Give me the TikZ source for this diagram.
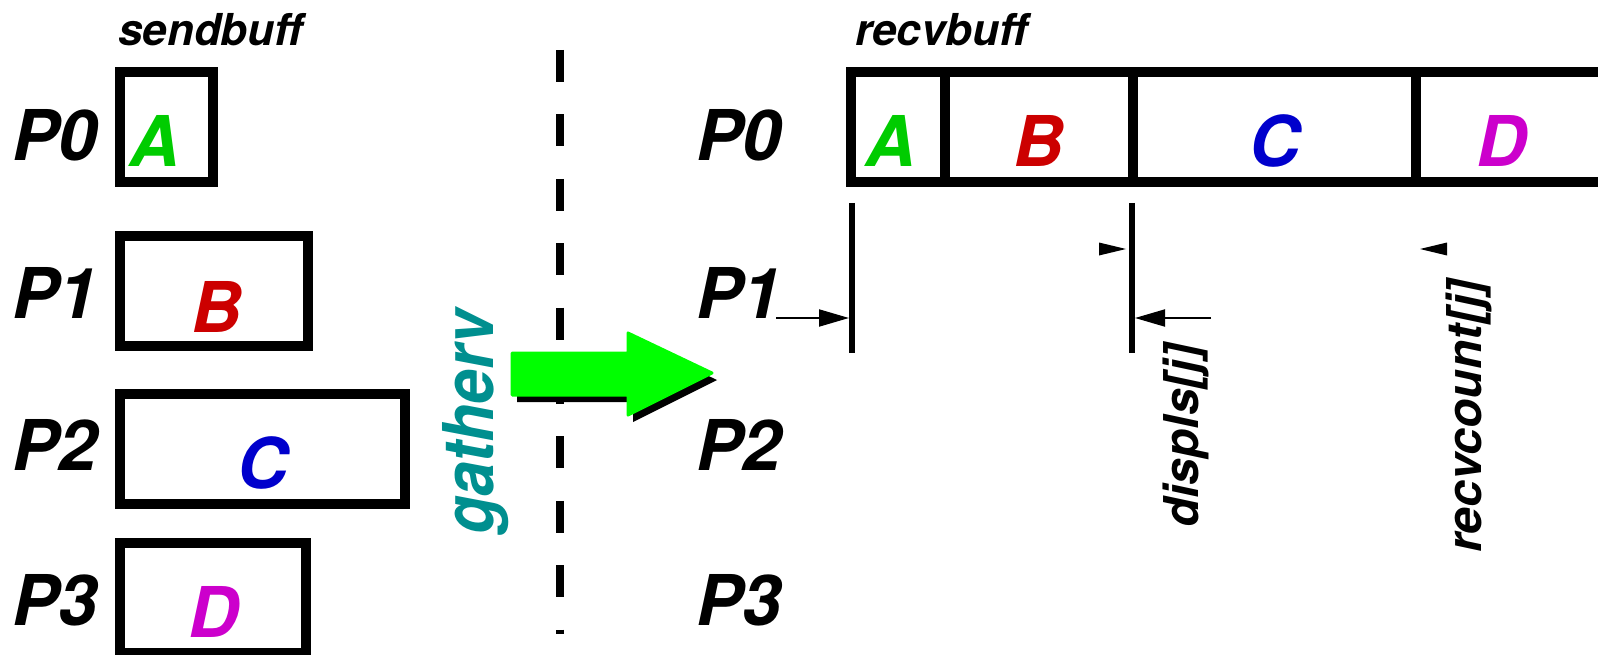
\documentclass[tikz,border=0pt]{standalone}
\usepackage{fontspec}
\setmainfont{TeX Gyre Heros}
\usetikzlibrary{arrows.meta}
\definecolor{cA}{RGB}{0,204,0}
\definecolor{cB}{RGB}{204,0,0}
\definecolor{cC}{RGB}{0,0,204}
\definecolor{cD}{RGB}{204,0,204}
\definecolor{arrowgreen}{RGB}{0,255,0}
\definecolor{gteal}{RGB}{0,143,143}
\begin{document}
\begin{tikzpicture}[x=1pt,y=-1pt,
  buf/.style={draw, line width=10pt, inner sep=0pt, minimum height=110pt},
  cell/.style={draw, line width=10pt, inner sep=0pt, minimum height=110pt},
  plabel/.style={anchor=base west, inner sep=0pt, font=\fontsize{70}{84}\selectfont\bfseries\itshape},
  letter/.style={anchor=base, inner sep=0pt, font=\fontsize{70}{84}\selectfont\bfseries\itshape},
  buftitle/.style={anchor=base west, inner sep=0pt, font=\fontsize{44}{52}\selectfont\bfseries\itshape},
  vlabel/.style={rotate=90, anchor=base west, inner sep=0pt, font=\fontsize{48}{58}\selectfont\bfseries\itshape},
  marker/.style={line width=6pt},
  dimarrow/.style={line width=2pt, -{Triangle[length=30pt,width=17pt]}},
  divider/.style={line width=8pt, dash pattern=on 32pt off 32.4pt}
]
\useasboundingbox (0,0) rectangle (1598,655);
\clip (0,0) rectangle (1598,655);

% titles
\node[buftitle] (sendtitle) at (118,46) {sendbuff};
\node[buftitle] (recvtitle) at (855,46) {recvbuff};

% process labels left
\node[plabel] (lp0) at (12,161) {P0};
\node[plabel] (lp1) at (12,318) {P1};
\node[plabel] (lp2) at (12,470) {P2};
\node[plabel] (lp3) at (12,625) {P3};

% send buffers
\node[buf, minimum width=93pt] (s0) at (166.5,127) {};
\node[buf, minimum width=188pt] (s1) at (214,291) {};
\node[buf, minimum width=285pt] (s2) at (262.5,449) {};
\node[buf, minimum width=186pt] (s3) at (213,598) {};
\node[letter, text=cA] (sa) at (155,167) {A};
\node[letter, text=cB] (sb) at (217,332) {B};
\node[letter, text=cC] (sc) at (263,488) {C};
\node[letter, text=cD] (sd) at (214,637) {D};

% dashed divider
\coordinate (dtop) at (560,50);
\coordinate (dbot) at (560,634);
\draw[divider] (dtop) -- (dbot);

% gatherv label
\node[vlabel, font=\fontsize{70}{84}\selectfont\bfseries\itshape, text=gteal] (gv) at (493,535) {\scalebox{0.89}[1]{gatherv}};

% big green arrow with shadow
\fill[black, line join=round, shift={(5,7)}] (512,353) -- (628,353) -- (628,333) -- (712,373) -- (628,415) -- (628,395) -- (512,395) -- cycle;
\filldraw[arrowgreen, line width=3pt, line join=round] (512,353) -- (628,353) -- (628,333) -- (712,373) -- (628,415) -- (628,395) -- (512,395) -- cycle;

% process labels right
\node[plabel] (rp0) at (696,161) {P0};
\node[plabel] (rp1) at (696,318) {P1};
\node[plabel] (rp2) at (696,470) {P2};
\node[plabel] (rp3) at (696,625) {P3};

% receive buffer
\node[cell, minimum width=94pt] (ra) at (898,127) {};
\node[cell, minimum width=188pt] (rb) at (1039,127) {};
\node[cell, minimum width=283pt] (rc) at (1274.5,127) {};
\node[cell, minimum width=300pt] (rd) at (1566,127) {};
\node[letter, text=cA] (la) at (891,167) {A};
\node[letter, text=cB] (lb) at (1039,167) {B};
\node[letter, text=cC] (lc) at (1275,167) {C};
\node[letter, text=cD] (ld) at (1502,167) {D};

% markers
\coordinate (m1t) at (852,203);
\coordinate (m1b) at (852,353);
\coordinate (m2t) at (1132,203);
\coordinate (m2b) at (1132,353);
\draw[marker] (m1t) -- (m1b);
\draw[marker] (m2t) -- (m2b);

% dimension arrows
\coordinate (a1s) at (776,318);
\coordinate (a1e) at (849,318);
\coordinate (a2s) at (1211,318);
\coordinate (a2e) at (1135,318);
\draw[dimarrow] (a1s) -- (a1e);
\draw[dimarrow] (a2s) -- (a2e);

% lone arrow tips
\fill (1099,242.5) -- (1126,249) -- (1099,255.5) -- cycle;
\fill (1447,242.5) -- (1420,249) -- (1447,255.5) -- cycle;

% vertical labels
\node[vlabel] (displs) at (1198,528) {displs[j]};
\node[vlabel] (rcount) at (1481,553) {recvcount[j]};
\end{tikzpicture}
\end{document}
